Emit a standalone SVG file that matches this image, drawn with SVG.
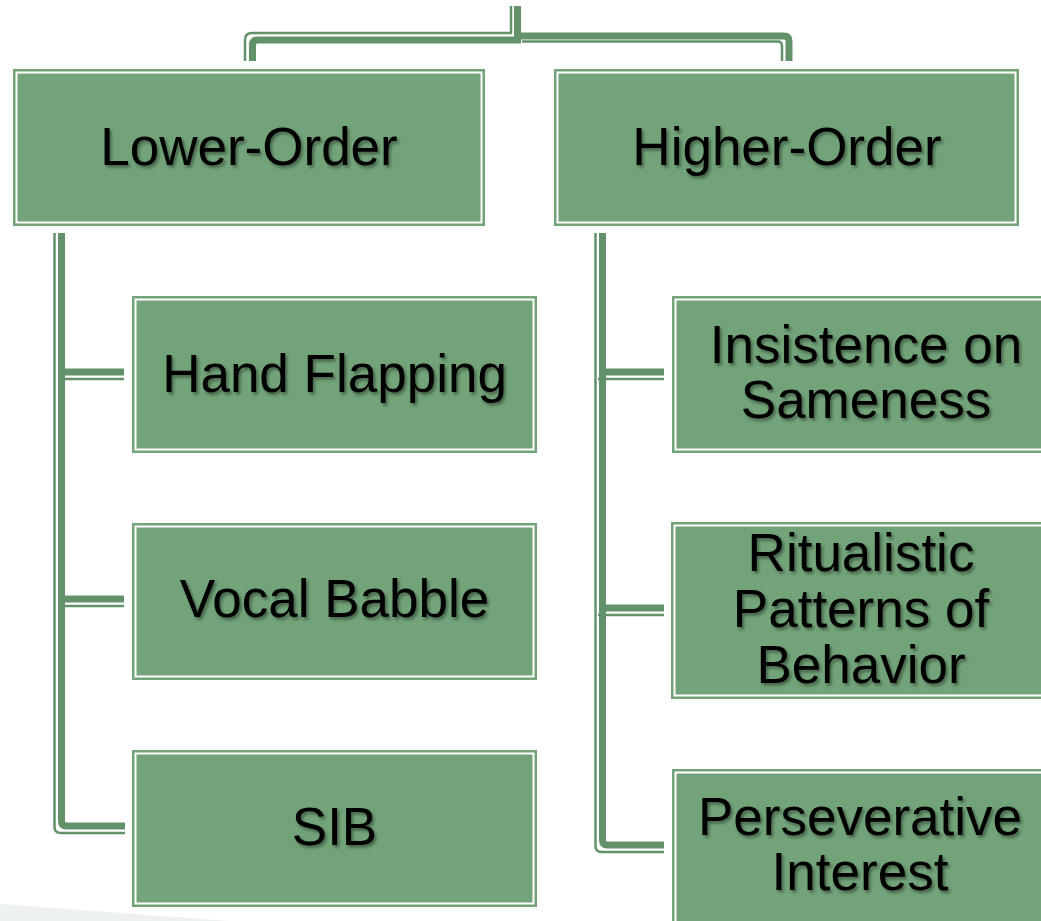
<svg xmlns="http://www.w3.org/2000/svg" width="1041" height="921" viewBox="0 0 1041 921">
  <defs>
    <filter id="sh" x="-10%" y="-20%" width="130%" height="150%">
      <feDropShadow dx="2" dy="2.5" stdDeviation="1.5" flood-color="#000" flood-opacity="0.4"/>
    </filter>
  </defs>
  <style>
    .box { fill: #72A379; }
    .inner { fill: none; stroke: #ffffff; stroke-width: 2; }
    .lbl { font-family: "Liberation Sans", Arial, sans-serif; font-size: 53px; fill: #000; text-anchor: middle; filter: url(#sh); }
    .thick { fill: none; stroke: #63926A; stroke-width: 7; }
    .thin { fill: none; stroke: #63926A; stroke-width: 2.5; }
  </style>
  <rect width="1041" height="921" fill="#ffffff"/>
  <polygon points="0,904 230,921 0,921" fill="#EEF2EE"/>

  <g id="connectors">
    <!-- top connectors -->
    <path class="thin" d="M511,6 V33 H252 Q245,33 245,40 V61"/>
    <path class="thick" d="M517.5,6 V40 H257.5 Q252.5,40 252.5,45 V61"/>
    <path class="thick" d="M517.5,36 H784 Q789,36 789,41 V61"/>
    <path class="thin" d="M522,41.5 H778 Q782,41.5 782,46 V61"/>
    <!-- left branch -->
    <path class="thin" d="M54.5,233 V827 Q54.5,833 60.5,833 H125"/>
    <path class="thin" d="M58,379 H124"/>
    <path class="thin" d="M58,606 H124"/>
    <path class="thick" d="M61.5,233 V821 Q61.5,826 66.5,826 H125"/>
    <path class="thick" d="M61.5,372 H124"/>
    <path class="thick" d="M61.5,599 H124"/>
    <!-- right branch -->
    <path class="thin" d="M595.5,233 V846 Q595.5,852 601.5,852 H664"/>
    <path class="thin" d="M598,379 H664"/>
    <path class="thin" d="M598,615 H664"/>
    <path class="thick" d="M602.5,233 V840 Q602.5,845 607.5,845 H664"/>
    <path class="thick" d="M602.5,372 H664"/>
    <path class="thick" d="M602.5,608 H664"/>
  </g>

  <g id="lower-order">
    <rect class="box" x="13" y="69" width="472" height="157"/>
    <rect class="inner" x="16.5" y="72.5" width="465" height="150"/>
    <text class="lbl" x="249" y="165">Lower-Order</text>
  </g>
  <g id="higher-order">
    <rect class="box" x="554" y="69" width="465" height="157"/>
    <rect class="inner" x="557.5" y="72.5" width="458" height="150"/>
    <text class="lbl" x="787" y="165">Higher-Order</text>
  </g>

  <g id="hand-flapping">
    <rect class="box" x="132" y="296" width="405" height="157"/>
    <rect class="inner" x="135.5" y="299.5" width="398" height="150"/>
    <text class="lbl" x="334.5" y="392">Hand Flapping</text>
  </g>
  <g id="vocal-babble">
    <rect class="box" x="132" y="523" width="405" height="157"/>
    <rect class="inner" x="135.5" y="526.5" width="398" height="150"/>
    <text class="lbl" x="334.5" y="617">Vocal Babble</text>
  </g>
  <g id="sib">
    <rect class="box" x="132" y="750" width="405" height="157"/>
    <rect class="inner" x="135.5" y="753.5" width="398" height="150"/>
    <text class="lbl" x="334.5" y="845">SIB</text>
  </g>

  <g id="insistence">
    <rect class="box" x="672" y="296" width="390" height="157"/>
    <rect class="inner" x="675.5" y="299.5" width="383" height="150"/>
    <text class="lbl" x="866" y="363">Insistence on</text>
    <text class="lbl" x="866" y="418">Sameness</text>
  </g>
  <g id="ritualistic">
    <rect class="box" x="671" y="522" width="390" height="177"/>
    <rect class="inner" x="674.5" y="525.5" width="383" height="170"/>
    <text class="lbl" x="861" y="571">Ritualistic</text>
    <text class="lbl" x="861" y="627">Patterns of</text>
    <text class="lbl" x="861" y="683">Behavior</text>
  </g>
  <g id="perseverative">
    <rect class="box" x="672" y="769" width="390" height="160"/>
    <rect class="inner" x="675.5" y="772.5" width="383" height="153"/>
    <text class="lbl" x="860" y="835">Perseverative</text>
    <text class="lbl" x="860" y="890">Interest</text>
  </g>
</svg>
